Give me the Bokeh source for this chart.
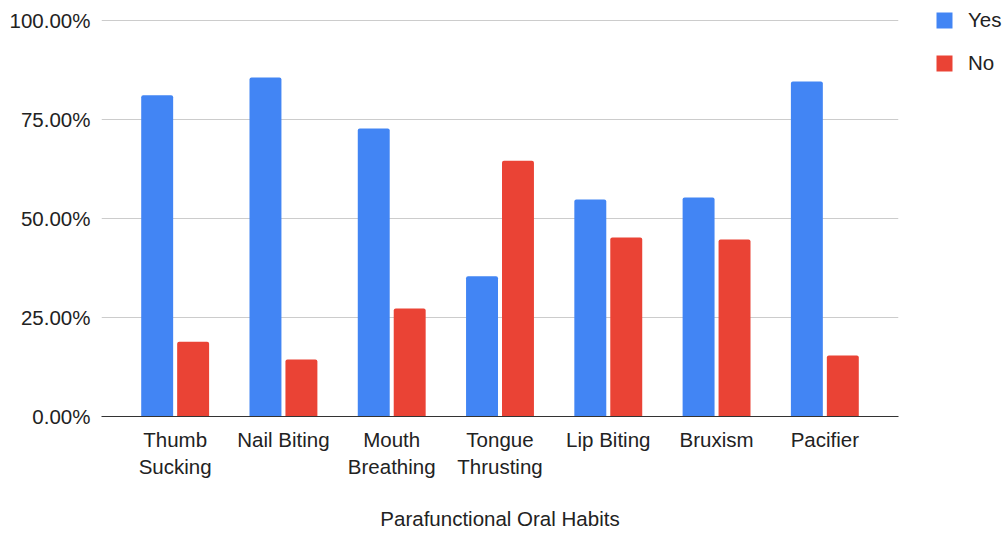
from bokeh.plotting import figure
from bokeh.layouts import row
from bokeh.models import ColumnDataSource, FactorRange, Range1d, NumeralTickFormatter, FixedTicker, Legend, LegendItem
from bokeh.transform import dodge
from bokeh.embed import file_html
from bokeh.resources import INLINE

categories = ["Thumb\nSucking", "Nail Biting", "Mouth\nBreathing", "Tongue\nThrusting", "Lip Biting", "Bruxism", "Pacifier"]
yes_values = [0.811, 0.856, 0.727, 0.354, 0.548, 0.553, 0.846]
no_values = [0.189, 0.144, 0.273, 0.646, 0.452, 0.447, 0.154]
y_ticks = [0.0, 0.25, 0.5, 0.75, 1.0]
series_names = ["Yes", "No"]
series_colors = ["#4285F4", "#EA4335"]

FONT = "Liberation Sans"
FS = "20.5px"

source = ColumnDataSource(dict(cat=categories, yes=yes_values, no=no_values))

p = figure(width=926, height=533, output_backend="svg", toolbar_location=None, title=None,
           x_range=FactorRange(*categories, range_padding=0.0515),
           y_range=Range1d(0, 1.0505),
           min_border_left=101, min_border_right=28, min_border_top=0, min_border_bottom=117)
p.outline_line_color = None
p.background_fill_color = "white"
p.border_fill_color = "white"

p.vbar(x=dodge("cat", -0.166, range=p.x_range), top="yes", width=0.295, bottom=0,
       source=source, fill_color=series_colors[0], line_color=None, border_radius=[2, 2, 0, 0])
p.vbar(x=dodge("cat", 0.166, range=p.x_range), top="no", width=0.295, bottom=0,
       source=source, fill_color=series_colors[1], line_color=None, border_radius=[2, 2, 0, 0])

p.xgrid.grid_line_color = None
p.ygrid.grid_line_color = "#cccccc"
p.ygrid.grid_line_width = 1

p.yaxis.ticker = FixedTicker(ticks=y_ticks)
p.yaxis.formatter = NumeralTickFormatter(format="0.00%")
p.yaxis.axis_line_color = None
p.yaxis.major_tick_line_color = None
p.yaxis.minor_tick_line_color = None
p.yaxis.major_label_standoff = 5
p.yaxis.major_label_text_font = FONT
p.yaxis.major_label_text_font_size = FS
p.yaxis.major_label_text_color = "#222222"

p.xaxis.axis_line_color = "#333333"
p.xaxis.axis_line_width = 1
p.xaxis.major_tick_line_color = None
p.xaxis.minor_tick_line_color = None
p.xaxis.major_label_standoff = 5
p.xaxis.major_label_text_font = FONT
p.xaxis.major_label_text_font_size = FS
p.xaxis.major_label_text_color = "#222222"
p.xaxis.axis_label = "Parafunctional Oral Habits"
p.xaxis.axis_label_text_font = FONT
p.xaxis.axis_label_text_font_size = FS
p.xaxis.axis_label_text_font_style = "normal"
p.xaxis.axis_label_text_color = "#222222"
p.xaxis.axis_label_standoff = 26

# legend panel
p2 = figure(width=80, height=533, output_backend="svg", toolbar_location=None, title=None,
            x_range=Range1d(0, 1), y_range=Range1d(0, 1),
            x_axis_location=None, y_axis_location=None, min_border=0)
p2.outline_line_color = None
p2.xgrid.visible = False
p2.ygrid.visible = False
key_src = ColumnDataSource(dict(x=[float("nan")], top=[float("nan")]))
items = []
for name, color in zip(series_names, series_colors):
    r = p2.vbar(x="x", top="top", width=0.5, source=key_src, fill_color=color, line_color=None,
                border_radius=2)
    items.append(LegendItem(label=name, renderers=[r]))

legend = Legend(items=items, location="top_left", padding=0, margin=8, spacing=19,
                glyph_width=20, glyph_height=20, label_height=20, label_standoff=14,
                label_text_font=FONT, label_text_font_size=FS, label_text_color="#222222",
                border_line_color=None, background_fill_alpha=0)
p2.add_layout(legend, "center")

layout = row(p, p2, spacing=0)
open("out.html", "w").write(file_html(layout, INLINE))
